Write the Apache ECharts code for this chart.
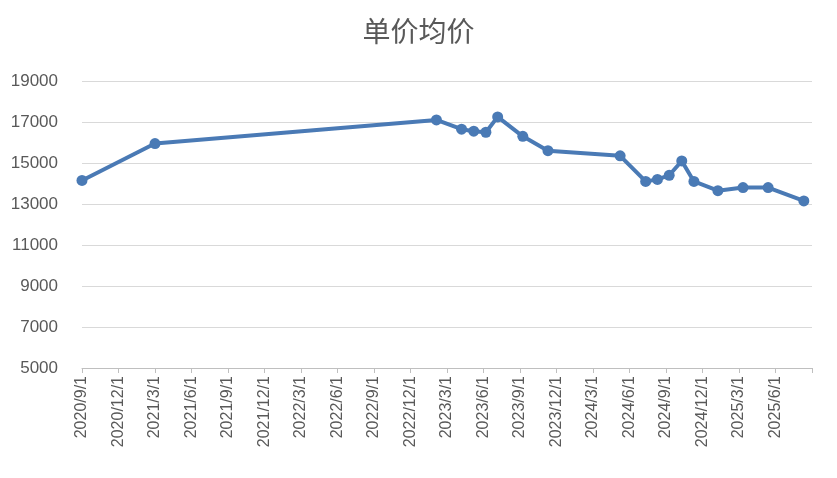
<!DOCTYPE html>
<html><head><meta charset="utf-8">
<script src="https://cdn.jsdelivr.net/npm/echarts@6/dist/echarts.min.js"></script>
<style>html,body{margin:0;padding:0;background:#fff}#c{width:837px;height:478px}</style>
</head><body><div id="c"></div>
<script>
const dates = ["2020/9/1","2021/3/1","2023/2/5","2023/4/7","2023/5/7","2023/6/7","2023/7/6","2023/9/8","2023/11/10","2024/5/8","2024/7/11","2024/8/10","2024/9/9","2024/10/10","2024/11/10","2025/1/9","2025/3/11","2025/5/13","2025/8/11"];
const prices = [14150,15950,17100,16650,16550,16500,17250,16300,15600,15350,14100,14200,14400,15100,14100,13650,13800,13800,13150];
const yTicks = [5000,7000,9000,11000,13000,15000,17000,19000];
function monthIdx(s){const [y,m,d]=s.split('/').map(Number);return (y-2020)*12+(m-9)+(d-1)/30.4;}
function label(v){if(v>=60)return '';const t=9+v;const y=2020+Math.floor((t-1)/12);const m=((t-1)%12)+1;return y+'/'+m+'/1';}
const chart = echarts.init(document.getElementById('c'));
chart.setOption({
  title:{text:'单价均价',left:'center',top:12,textStyle:{fontSize:28,fontWeight:'normal',color:'#595959',fontFamily:'Noto Sans CJK SC'}},
  grid:{left:82,right:25,top:81,bottom:110},
  xAxis:{type:'value',min:0,max:60,interval:3,
    axisLine:{show:true,lineStyle:{color:'#bfbfbf'}},axisTick:{show:true,lineStyle:{color:'#bfbfbf'}},
    splitLine:{show:false},
    axisLabel:{rotate:90,formatter:label,color:'#595959',fontSize:16,fontFamily:'Liberation Sans'}},
  yAxis:{type:'value',min:5000,max:19000,interval:2000,
    axisLine:{show:false},axisTick:{show:false},
    splitLine:{lineStyle:{color:'#d9d9d9'}},
    axisLabel:{color:'#595959',fontSize:17,fontFamily:'Liberation Sans',margin:24,formatter:v=>String(v)}},
  series:[{type:'line',data:dates.map((d,i)=>[monthIdx(d),prices[i]]),
    symbol:'circle',symbolSize:11,lineStyle:{width:4,color:'#4a7ab5'},itemStyle:{color:'#4a7ab5'}}],
  animation:false
});
</script></body></html>
